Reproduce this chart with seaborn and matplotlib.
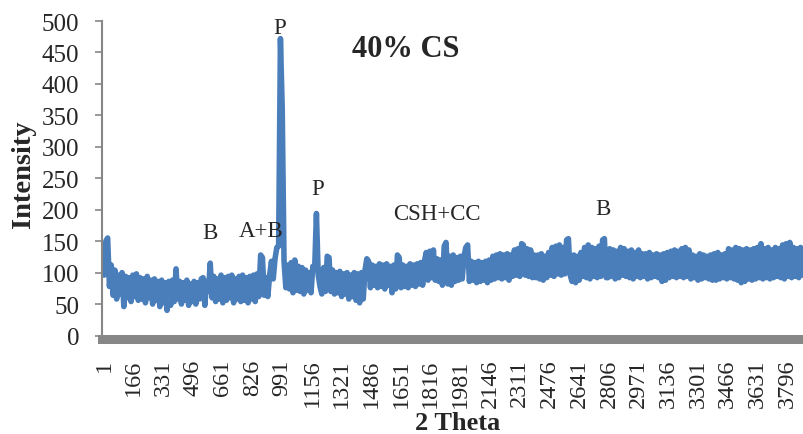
import matplotlib
matplotlib.use("Agg")
import matplotlib.pyplot as plt
import seaborn as sns
import pandas as pd

# Channel index (one reading every 10 channels) and measured intensity
channel = list(range(1, 3882, 10))
intensity = [
    96, 150, 155, 78, 112, 64, 104, 58, 96, 66, 100, 46, 94, 60, 92, 54, 96, 62, 98, 56,
    92, 58, 90, 52, 94, 60, 88, 50, 90, 56, 86, 46, 88, 52, 84, 40, 86, 48, 88, 54,
    106, 58, 86, 50, 84, 56, 88, 48, 82, 54, 86, 50, 84, 58, 90, 92, 48, 86, 70, 115,
    60, 94, 54, 90, 58, 96, 52, 92, 56, 94, 60, 96, 52, 90, 58, 94, 54, 96, 56, 92,
    52, 94, 58, 96, 54, 98, 62, 128, 124, 64, 92, 62, 96, 118, 90, 122, 140, 142, 472, 360,
    118, 76, 112, 74, 116, 68, 120, 72, 110, 70, 108, 66, 104, 72, 100, 68, 110, 104, 194, 96,
    78, 66, 108, 70, 126, 124, 70, 104, 66, 100, 68, 102, 62, 98, 66, 100, 58, 96, 62, 100,
    56, 98, 52, 100, 58, 104, 122, 118, 76, 112, 80, 110, 76, 114, 78, 112, 74, 114, 80, 110,
    68, 112, 74, 128, 124, 76, 112, 78, 110, 76, 114, 80, 112, 78, 114, 82, 116, 80, 118, 132,
    88, 134, 92, 136, 88, 122, 86, 120, 80, 142, 148, 82, 126, 80, 128, 86, 124, 88, 126, 90,
    126, 140, 144, 86, 118, 88, 116, 84, 118, 86, 116, 88, 118, 84, 120, 88, 126, 90, 128, 92,
    130, 90, 128, 92, 130, 88, 128, 94, 136, 96, 138, 94, 146, 144, 96, 138, 94, 136, 92, 128,
    92, 128, 90, 130, 88, 126, 92, 132, 96, 140, 94, 142, 98, 144, 96, 140, 98, 152, 154, 96,
    86, 128, 84, 126, 88, 132, 94, 140, 92, 144, 90, 140, 94, 138, 92, 142, 94, 152, 154, 92,
    92, 138, 94, 136, 90, 134, 92, 140, 96, 138, 94, 134, 92, 136, 90, 132, 94, 136, 92, 130,
    94, 130, 90, 132, 92, 128, 94, 130, 92, 128, 86, 130, 88, 132, 92, 134, 94, 136, 92, 134,
    94, 138, 92, 140, 94, 136, 90, 128, 92, 126, 88, 130, 90, 128, 92, 126, 90, 128, 88, 130,
    88, 132, 90, 128, 92, 130, 90, 138, 92, 136, 90, 140, 88, 138, 84, 136, 86, 138, 90, 136,
    88, 138, 90, 140, 92, 146, 90, 138, 92, 140, 90, 136, 92, 140, 94, 138, 92, 144, 90, 146,
    94, 148, 92, 140, 94, 138, 92, 140, 96,
]

x_ticks = list(range(1, 3800, 165))
y_ticks = [0, 50, 100, 150, 200, 250, 300, 350, 400, 450, 500]

# Phase labels: (text, channel, intensity at baseline)
phase_labels = [
    ("P", 979, 481),
    ("P", 1190, 225),
    ("B", 587, 155),
    ("A+B", 875, 158),
    ("CSH+CC", 1848, 185),
    ("B", 2771, 193),
]

df = pd.DataFrame({"channel": channel, "intensity": intensity})

sns.set_style("white")
plt.rcParams["font.family"] = ["Liberation Serif", "DejaVu Serif"]

fig = plt.figure(figsize=(8.04, 4.35), dpi=100)
ax = fig.add_axes([0.1265, 0.2264, 0.8735, 0.7230])

sns.lineplot(data=df, x="channel", y="intensity", ax=ax, color="#4A7EBB",
             linewidth=4.0, estimator=None, sort=False)
for line in ax.lines:
    line.set_solid_capstyle("round")
    line.set_solid_joinstyle("round")

ax.set_xlim(-12, 3890)
ax.set_ylim(0, 500)

ax.set_xticks(x_ticks)
ax.set_xticklabels([str(t) for t in x_ticks])
ax.set_yticks(y_ticks)
ax.set_yticklabels([str(t) for t in y_ticks])
ax.tick_params(axis="x", length=0, pad=14, labelrotation=90, labelsize=17.5)
ax.tick_params(axis="y", length=5.3, width=1.2, color="#868686", pad=11,
               direction="out", left=True, labelsize=18)

for side in ("top", "right"):
    ax.spines[side].set_visible(False)
ax.spines["left"].set_color("#868686")
ax.spines["left"].set_linewidth(1.5)
ax.spines["bottom"].set_color("#878787")
ax.spines["bottom"].set_linewidth(6.5)
ax.spines["bottom"].set_position(("outward", 2.7))

ax.set_xlabel("")
ax.set_ylabel("")
fig.text(457.5 / 804, 1 - 423.5 / 435, "2 Theta", fontsize=19, fontweight="bold",
         ha="center", va="center")
fig.text(24 / 804, 1 - 174 / 435, "Intensity", fontsize=20.5, fontweight="bold",
         rotation=90, ha="center", va="center")

ax.text(1679, 444, "40% CS", fontsize=22, fontweight="bold", ha="center", va="baseline")
for label, cx, cy in phase_labels:
    ax.text(cx, cy, label, fontsize=16.5, ha="center", va="baseline", clip_on=False)

fig.savefig("out.png", dpi=100)
